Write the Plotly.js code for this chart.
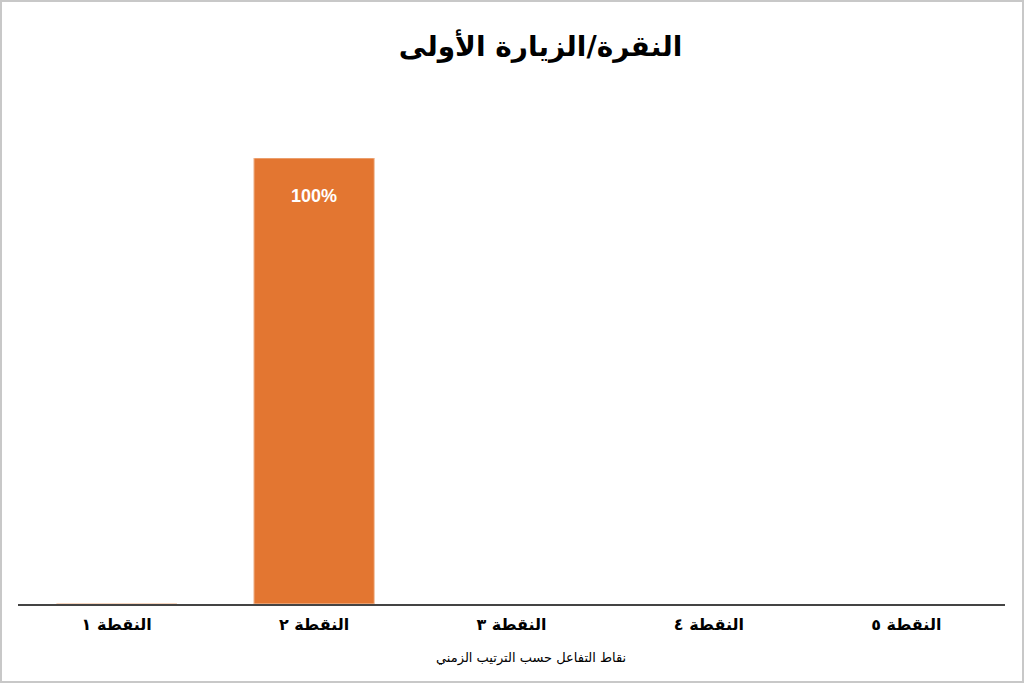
<!DOCTYPE html>
<html>
<head>
<meta charset="utf-8">
<script src="https://cdn.plot.ly/plotly-3.0.1.min.js"></script>
<style>
html,body{margin:0;padding:0;background:#fff;}
#frame{width:1024px;height:683px;box-sizing:border-box;border:2px solid #c8c8c8;overflow:hidden;}
#chart{width:1020px;height:679px;}
</style>
</head>
<body>
<div id="frame"><div id="chart"></div></div>
<script>
const categories = ['النقطة ١', 'النقطة ٢', 'النقطة ٣', 'النقطة ٤', 'النقطة ٥'];
const values = [0, 100, null, null, null];
const valueLabels = ['', '100%', '', '', ''];
const titleText = 'النقرة/الزيارة الأولى';
const xTitleText = 'نقاط التفاعل حسب الترتيب الزمني';

const barColor = '#e37631';

const annotations = [];
values.forEach((v, i) => {
  if (valueLabels[i]) {
    annotations.push({
      x: categories[i], y: v, xref: 'x', yref: 'y',
      text: '<b>' + valueLabels[i] + '</b>', showarrow: false, yshift: -38,
      font: {family: 'Liberation Sans, Arial, sans-serif', size: 18, color: '#ffffff'}
    });
  }
});
annotations.push({
  x: 0.52, y: 0, xref: 'paper', yref: 'paper', xanchor: 'center', yanchor: 'middle',
  yshift: -54, showarrow: false, text: xTitleText,
  font: {family: 'DejaVu Sans, sans-serif', size: 13, color: '#000000'}
});

const data = [{
  type: 'bar',
  x: categories,
  y: values,
  width: 0.61,
  marker: {color: barColor, line: {color: '#f3c6a8', width: 1}},
  hoverinfo: 'none'
}];

const layout = {
  width: 1020, height: 679,
  margin: {l: 16, r: 17, t: 156, b: 77},
  paper_bgcolor: '#ffffff', plot_bgcolor: '#ffffff',
  showlegend: false,
  title: {
    text: '<b>' + titleText + '</b>',
    x: 0.528, xanchor: 'center', y: 0.935, yanchor: 'middle',
    font: {family: 'DejaVu Sans, sans-serif', size: 28, color: '#000000'}
  },
  xaxis: {
    type: 'category',
    showline: true, linecolor: '#444444', linewidth: 2,
    showgrid: false, zeroline: false, ticks: '',
    ticklabelstandoff: 5,
    tickfont: {family: 'DejaVu Sans, sans-serif', size: 16, color: '#000000', weight: 'bold'}
  },
  yaxis: {
    range: [0, 100], visible: false, showgrid: false, zeroline: false
  },
  annotations: annotations
};

Plotly.newPlot('chart', data, layout, {staticPlot: true, displayModeBar: false});
</script>
</body>
</html>
